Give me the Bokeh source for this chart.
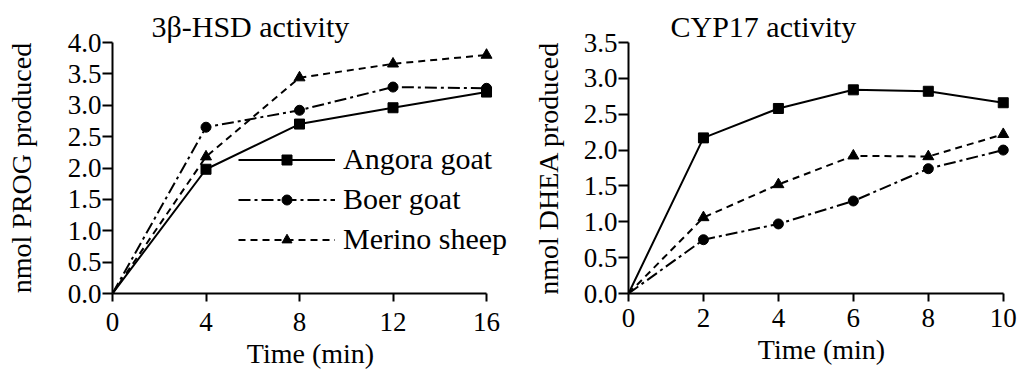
from bokeh.plotting import figure
from bokeh.layouts import row
from bokeh.models import Range1d, FixedTicker, Legend, LegendItem
from bokeh.embed import file_html
from bokeh.resources import INLINE

FONT = "Liberation Serif"

# ---- data ----
hsd_time = [0, 4, 8, 12, 16]
hsd_angora = [0.0, 1.98, 2.70, 2.96, 3.21]
hsd_boer = [0.0, 2.65, 2.92, 3.29, 3.27]
hsd_merino = [0.0, 2.18, 3.44, 3.66, 3.80]

cyp_time = [0, 2, 4, 6, 8, 10]
cyp_angora = [0.0, 2.17, 2.58, 2.84, 2.82, 2.66]
cyp_boer = [0.0, 0.75, 0.97, 1.29, 1.74, 2.00]
cyp_merino = [0.0, 1.06, 1.52, 1.92, 1.91, 2.22]

hsd_xticks = [0, 4, 8, 12, 16]
hsd_yticks = [0.0, 0.5, 1.0, 1.5, 2.0, 2.5, 3.0, 3.5, 4.0]
cyp_xticks = [0, 2, 4, 6, 8, 10]
cyp_yticks = [0.0, 0.5, 1.0, 1.5, 2.0, 2.5, 3.0, 3.5]

series_names = ["Angora goat", "Boer goat", "Merino sheep"]
titles = ["3\u03b2-HSD activity", "CYP17 activity"]
ylabels = ["nmol PROG produced", "nmol DHEA produced"]
xlabel = "Time (min)"

STYLES = [
    dict(dash="solid", marker="square", size=10),
    dict(dash="12 4 3 4", marker="circle", size=10),
    dict(dash="7 5", marker="triangle", size=11),
]


def style_axes(p, xticks, yticks, xs1, xs2, ys2):
    p.xgrid.visible = False
    p.ygrid.visible = False
    p.outline_line_color = None
    p.background_fill_color = "white"
    p.border_fill_color = "white"
    p.xaxis.ticker = FixedTicker(ticks=xticks)
    p.yaxis.ticker = FixedTicker(ticks=yticks)
    p.xaxis.major_label_overrides = {t: str(t) for t in xticks}
    p.yaxis.major_label_overrides = {t: "%.1f" % t for t in yticks}
    p.xaxis.bounds = (xticks[0], xticks[-1])
    p.yaxis.bounds = (yticks[0], yticks[-1])
    for ax in (p.xaxis, p.yaxis):
        ax.axis_line_width = 2
        ax.axis_line_color = "black"
        ax.major_tick_line_width = 2
        ax.major_tick_line_color = "black"
        ax.major_tick_in = 0
        ax.minor_tick_line_color = None
        ax.major_label_text_font = FONT
        ax.major_label_text_font_size = "27px"
        ax.major_label_text_color = "black"
        ax.major_label_text_line_height = 1.0
        ax.axis_label_text_font = FONT
        ax.axis_label_text_font_size = "28px"
        ax.axis_label_text_font_style = "normal"
        ax.axis_label_text_color = "black"
        ax.axis_label_text_line_height = 1.0
    p.xaxis.major_tick_out = 8
    p.yaxis.major_tick_out = 10
    p.xaxis.major_label_standoff = xs1
    p.xaxis.axis_label_standoff = xs2
    p.yaxis.major_label_standoff = 1
    p.yaxis.axis_label_standoff = ys2


def make_panel(times, series, xticks, yticks, title, ylabel, dims, xpad, stand, legend):
    width, bl, br, bt, bb, toff = dims
    p = figure(width=width, height=373, output_backend="svg", toolbar_location=None,
               x_range=Range1d(xticks[0], xticks[-1] + xpad),
               y_range=Range1d(yticks[0], yticks[-1]),
               min_border_left=bl, min_border_right=br,
               min_border_top=bt, min_border_bottom=bb)
    p.title.text = title
    p.title.text_font = FONT
    p.title.text_font_size = "30px"
    p.title.text_font_style = "normal"
    p.title.text_color = "black"
    p.title.text_line_height = 0.9
    p.title.align = "left"
    p.title.offset = toff
    p.title.standoff = 0
    style_axes(p, xticks, yticks, *stand)
    p.xaxis.axis_label = xlabel
    p.yaxis.axis_label = ylabel
    items = []
    for name, vals, st in zip(series_names, series, STYLES):
        ln = p.line(times, vals, line_color="black", line_width=2, line_dash=st["dash"])
        sc = p.scatter(times[1:], vals[1:], marker=st["marker"], size=st["size"],
                       fill_color="black", line_color="black")
        items.append(LegendItem(label=name, renderers=[ln, sc]))
    if legend:
        lg = Legend(items=items, location=(126, 37), glyph_width=97, glyph_height=25,
                    label_standoff=8, spacing=6, padding=0, margin=0,
                    border_line_color=None, background_fill_alpha=0,
                    label_text_font=FONT, label_text_font_size="30px",
                    label_text_line_height=1.0,
                    label_text_color="black")
        p.add_layout(lg, "center")
    return p


p1 = make_panel(hsd_time, [hsd_angora, hsd_boer, hsd_merino], hsd_xticks, hsd_yticks,
                titles[0], ylabels[0], (510, 112, 2, 40, 80, 39), 0.94, (11, 4, 28), True)
p2 = make_panel(cyp_time, [cyp_angora, cyp_boer, cyp_merino], cyp_xticks, cyp_yticks,
                titles[1], ylabels[1], (509, 118, 5, 42, 76, 42), 0.3, (7, 4, 17), False)

layout = row(p1, p2)
open("out.html", "w").write(file_html(layout, INLINE))
